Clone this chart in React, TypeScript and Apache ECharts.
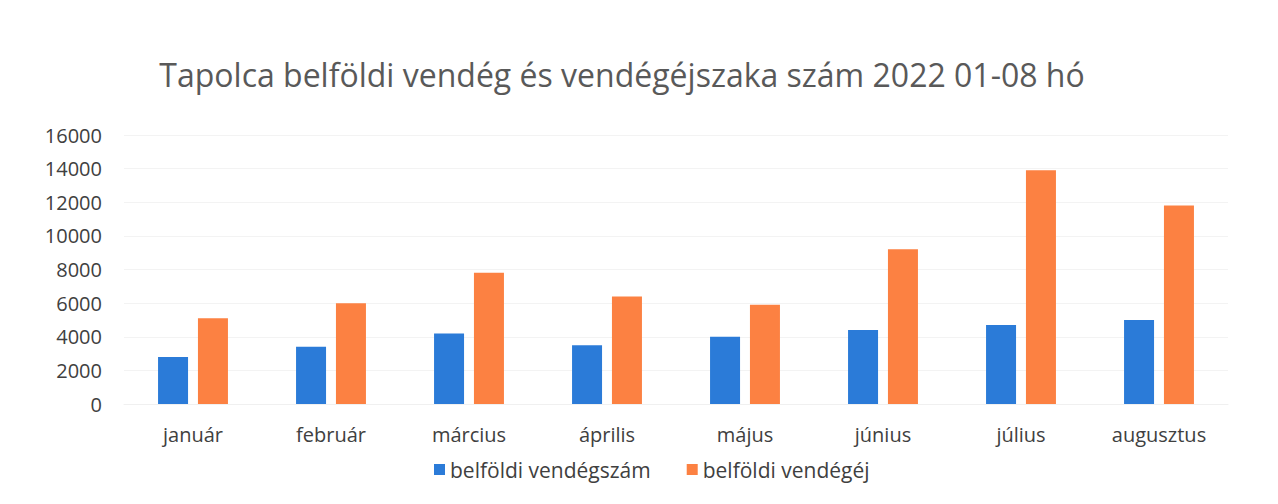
import React, { useEffect, useRef } from "react";
import * as echarts from "echarts";

const months = ["január", "február", "március", "április", "május", "június", "július", "augusztus"];
const vendegszam = [2800, 3400, 4200, 3500, 4000, 4400, 4700, 5000];
const vendegej = [5100, 6000, 7800, 6400, 5900, 9200, 13900, 11800];
const seriesNames = ["belföldi vendégszám", "belföldi vendégéj"];
const titleText = "Tapolca belföldi vendég és vendégéjszaka szám 2022 01-08 hó";

const FONT = "'Open Sans', 'Noto Sans', sans-serif";

export default function App() {
  const ref = useRef<HTMLDivElement>(null);
  useEffect(() => {
    if (!ref.current) return;
    const chart = echarts.init(ref.current, undefined, { renderer: "svg" });
    chart.setOption({
      animation: false,
      backgroundColor: "#ffffff",
      title: {
        text: titleText,
        left: 617,
        textAlign: "center",
        top: 53,
        textStyle: { fontFamily: FONT, fontSize: 32, fontWeight: "normal", color: "#595959" },
      },
      legend: {
        data: seriesNames,
        left: 429,
        top: 454,
        itemWidth: 11,
        itemHeight: 11,
        itemGap: 36,
        icon: "rect",
        textStyle: { fontFamily: FONT, fontSize: 21, color: "#404040" },
      },
      grid: { left: 124, right: 50, top: 135, bottom: 100, containLabel: false },
      xAxis: {
        type: "category",
        data: months,
        axisTick: { show: false },
        axisLine: { lineStyle: { color: "#f0f0f0" } },
        axisLabel: { fontFamily: FONT, fontSize: 20, color: "#404040", margin: 20 },
      },
      yAxis: {
        type: "value",
        min: 0,
        max: 16000,
        interval: 2000,
        axisLabel: {
          fontFamily: FONT,
          fontSize: 20,
          color: "#404040",
          margin: 22,
          formatter: (v: number) => String(v),
        },
        splitLine: { lineStyle: { color: "#f3f3f3" } },
      },
      series: [
        {
          name: seriesNames[0],
          type: "bar",
          data: vendegszam,
          barWidth: 30,
          barGap: "33%",
          itemStyle: { color: "#2b7bd8" },
        },
        {
          name: seriesNames[1],
          type: "bar",
          data: vendegej,
          barWidth: 30,
          itemStyle: { color: "#fc8142" },
        },
      ],
    });
    return () => chart.dispose();
  }, []);
  return (
    <div
      ref={ref}
      style={{ position: "fixed", left: 0, top: 0, width: 1278, height: 504 }}
    />
  );
}
